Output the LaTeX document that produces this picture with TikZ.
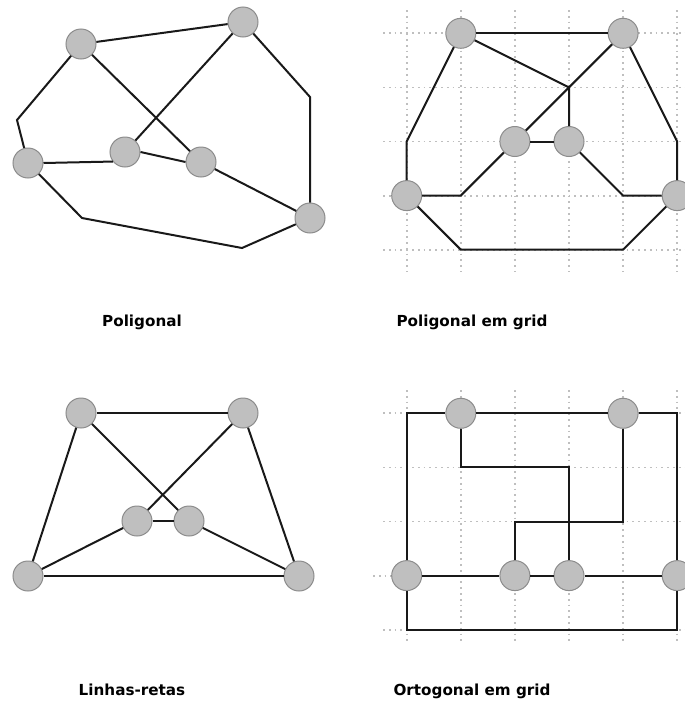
\documentclass[tikz,border=0pt]{standalone}
\usepackage{fontspec}
\setmainfont{DejaVu Sans}
\begin{document}
\begin{tikzpicture}[x=0.5pt,y=-0.5pt,
  vtx/.style={circle, fill=black!25, draw=black!45, line width=0.5pt, minimum size=15pt, inner sep=0pt},
  edge/.style={line width=1pt, draw=black!90},
  gridline/.style={dotted, line width=0.9pt, draw=black!25},
  lbl/.style={font=\bfseries\fontsize{7.6}{9}\selectfont, anchor=base, inner sep=0pt}]
\useasboundingbox (0,0) rectangle (685,702);

% ---------- grids ----------
\foreach \x in {406.7,460.8,514.9,569.0,623.1,677.2} {
  \draw[gridline] (\x,10) -- (\x,272);
  \draw[gridline] (\x,390) -- (\x,642);
}
\foreach \y in {33.3,87.4,141.5,195.6,249.7} {
  \draw[gridline] (383,\y) -- (685,\y);
}
\foreach \y in {413.3,467.4,521.5,629.7} {
  \draw[gridline] (383,\y) -- (685,\y);
}
\draw[gridline] (373,575.6) -- (685,575.6);

% ---------- Poligonal ----------
\node[vtx] (a1) at (81,44) {};
\node[vtx] (b1) at (243,22) {};
\node[vtx] (c1) at (28,163) {};
\node[vtx] (d1) at (125,152) {};
\node[vtx] (e1) at (201,162) {};
\node[vtx] (f1) at (310,218) {};
\coordinate (k1a) at (17,120);
\coordinate (k1b) at (310,97);
\coordinate (k1c) at (82,218);
\coordinate (k1d) at (242,248);
\draw[edge] (a1) -- (b1);
\draw[edge] (a1) -- (k1a) -- (c1);
\draw[edge] (a1) -- (e1);
\draw[edge] (b1) -- (d1);
\draw[edge] (b1) -- (k1b) -- (f1);
\draw[edge] (c1.east) -- (d1.218);
\draw[edge] (d1.east) -- (e1.west);
\draw[edge] (e1) -- (f1);
\draw[edge] (c1) -- (k1c) -- (k1d) -- (f1);

% ---------- Poligonal em grid ----------
\node[vtx] (p2) at (460.8,33.3) {};
\node[vtx] (q2) at (623.1,33.3) {};
\node[vtx] (r2) at (514.9,141.5) {};
\node[vtx] (s2) at (569.0,141.5) {};
\node[vtx] (t2) at (406.7,195.6) {};
\node[vtx] (u2) at (677.2,195.6) {};
\coordinate (j2) at (569.0,87.4);
\coordinate (k2a) at (406.7,141.5);
\coordinate (k2b) at (677.2,141.5);
\coordinate (k2c) at (460.8,195.6);
\coordinate (k2d) at (623.1,195.6);
\coordinate (k2e) at (460.8,249.7);
\coordinate (k2f) at (623.1,249.7);
\draw[edge] (p2) -- (q2);
\draw[edge] (p2) -- (j2) -- (s2);
\draw[edge] (q2) -- (r2);
\draw[edge] (p2) -- (k2a) -- (t2);
\draw[edge] (q2) -- (k2b) -- (u2);
\draw[edge] (r2) -- (s2);
\draw[edge] (t2) -- (k2c) -- (r2);
\draw[edge] (s2) -- (k2d) -- (u2);
\draw[edge] (t2) -- (k2e) -- (k2f) -- (u2);

% ---------- Linhas-retas ----------
\node[vtx] (a3) at (81,413) {};
\node[vtx] (b3) at (243,413) {};
\node[vtx] (c3) at (137,521) {};
\node[vtx] (d3) at (189,521) {};
\node[vtx] (e3) at (28,576) {};
\node[vtx] (f3) at (299,576) {};
\draw[edge] (a3) -- (b3);
\draw[edge] (a3) -- (d3);
\draw[edge] (a3) -- (e3);
\draw[edge] (b3) -- (c3);
\draw[edge] (b3) -- (f3);
\draw[edge] (c3) -- (d3);
\draw[edge] (c3) -- (e3);
\draw[edge] (d3) -- (f3);
\draw[edge] (e3) -- (f3);

% ---------- Ortogonal em grid ----------
\node[vtx] (p4) at (460.8,413.3) {};
\node[vtx] (q4) at (623.1,413.3) {};
\node[vtx] (t4) at (406.7,575.6) {};
\node[vtx] (r4) at (514.9,575.6) {};
\node[vtx] (s4) at (569.0,575.6) {};
\node[vtx] (u4) at (677.2,575.6) {};
\coordinate (k4a) at (406.7,413.3);
\coordinate (k4b) at (677.2,413.3);
\coordinate (k4c) at (460.8,467.4);
\coordinate (k4d) at (569.0,467.4);
\coordinate (k4e) at (623.1,521.5);
\coordinate (k4f) at (514.9,521.5);
\coordinate (k4g) at (406.7,629.7);
\coordinate (k4h) at (677.2,629.7);
\draw[edge] (t4) -- (k4a) -- (p4);
\draw[edge] (p4) -- (q4);
\draw[edge] (q4) -- (k4b) -- (u4);
\draw[edge] (p4) -- (k4c) -- (k4d) -- (s4);
\draw[edge] (q4) -- (k4e) -- (k4f) -- (r4);
\draw[edge] (t4) -- (r4);
\draw[edge] (r4) -- (s4);
\draw[edge] (s4) -- (u4);
\draw[edge] (t4) -- (k4g) -- (k4h) -- (u4);

% ---------- labels ----------
\node[lbl] (l1) at (142,326) {Poligonal};
\node[lbl] (l2) at (472,326) {Poligonal em grid};
\node[lbl] (l3) at (132,695) {Linhas-retas};
\node[lbl] (l4) at (472,695) {Ortogonal em grid};
\end{tikzpicture}
\end{document}
